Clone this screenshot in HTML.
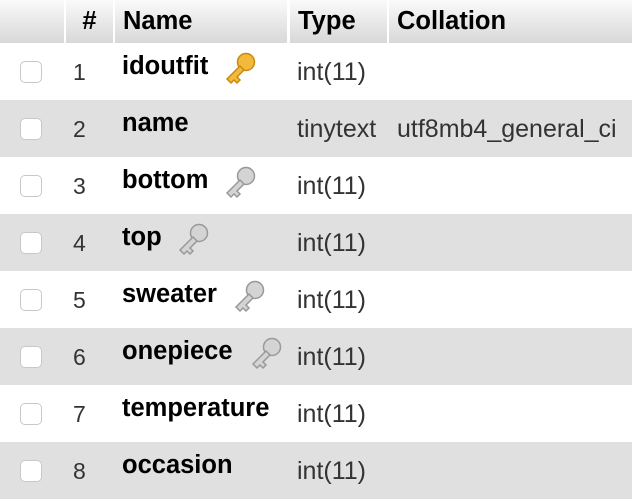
<!DOCTYPE html>
<html><head><style>
body{margin:0;width:632px;height:498px;overflow:hidden;background:#fff;font-family:"Liberation Sans",sans-serif;}
.h{position:absolute;top:0;height:43px;background:linear-gradient(#fafafa,#d8d8d8);font-weight:bold;font-size:25.5px;color:#000;line-height:43px;box-sizing:border-box;padding-left:10px;}
.r{position:absolute;left:0;width:632px;height:57px;}
.g{background:#e0e0e0;}
.cb{position:absolute;left:20px;top:18px;width:22px;height:22px;border:1px solid #c8c8c8;border-radius:5px;background:#fff;box-sizing:border-box;}
.n{position:absolute;left:73px;top:16px;font-size:23px;color:#333;}
.nm{position:absolute;left:122px;top:9px;font-size:25.5px;font-weight:bold;color:#000;}
.t{position:absolute;left:297px;top:15px;font-size:25px;color:#333;}
.c{position:absolute;left:397px;top:15px;font-size:25px;color:#333;}
.k{position:absolute;top:8px;}
</style></head><body>
<div class="h" style="left:0;width:64px"></div>
<div class="h" style="left:66px;width:47px;text-align:center;padding:0">#</div>
<div class="h" style="left:115px;width:172px;padding-left:8px">Name</div>
<div class="h" style="left:290px;width:97px;padding-left:8px">Type</div>
<div class="h" style="left:389px;width:243px;padding-left:8px">Collation</div>

<svg width="0" height="0" style="position:absolute"><defs>
<g id="key"><circle cx="24" cy="11" r="8.5"/><path d="M18 15 L5 28 L9 32 L12 29 L15 32 L18 29 L15 26 L22 19 Z"/></g>
</defs></svg>

<div class="r" style="top:43px"><div class="cb"></div><div class="n">1</div><div class="nm">idoutfit</div><div class="t">int(11)</div>
<svg class="k" style="left:222px" width="36" height="36"><use href="#key" fill="#f2b93b" stroke="#c98a12" stroke-width="1.5"/></svg></div>
<div class="r g" style="top:100px"><div class="cb"></div><div class="n">2</div><div class="nm">name</div><div class="t">tinytext</div><div class="c">utf8mb4_general_ci</div></div>
<div class="r" style="top:157px"><div class="cb"></div><div class="n">3</div><div class="nm">bottom</div><div class="t">int(11)</div>
<svg class="k" style="left:222px" width="36" height="36"><use href="#key" fill="#d4d4d4" stroke="#999" stroke-width="1.5"/></svg></div>
<div class="r g" style="top:214px"><div class="cb"></div><div class="n">4</div><div class="nm">top</div><div class="t">int(11)</div>
<svg class="k" style="left:175px" width="36" height="36"><use href="#key" fill="#d4d4d4" stroke="#999" stroke-width="1.5"/></svg></div>
<div class="r" style="top:271px"><div class="cb"></div><div class="n">5</div><div class="nm">sweater</div><div class="t">int(11)</div>
<svg class="k" style="left:231px" width="36" height="36"><use href="#key" fill="#d4d4d4" stroke="#999" stroke-width="1.5"/></svg></div>
<div class="r g" style="top:328px"><div class="cb"></div><div class="n">6</div><div class="nm">onepiece</div><div class="t">int(11)</div>
<svg class="k" style="left:248px" width="36" height="36"><use href="#key" fill="#d4d4d4" stroke="#999" stroke-width="1.5"/></svg></div>
<div class="r" style="top:385px"><div class="cb"></div><div class="n">7</div><div class="nm">temperature</div><div class="t">int(11)</div></div>
<div class="r g" style="top:442px"><div class="cb"></div><div class="n">8</div><div class="nm">occasion</div><div class="t">int(11)</div></div>
</body></html>
